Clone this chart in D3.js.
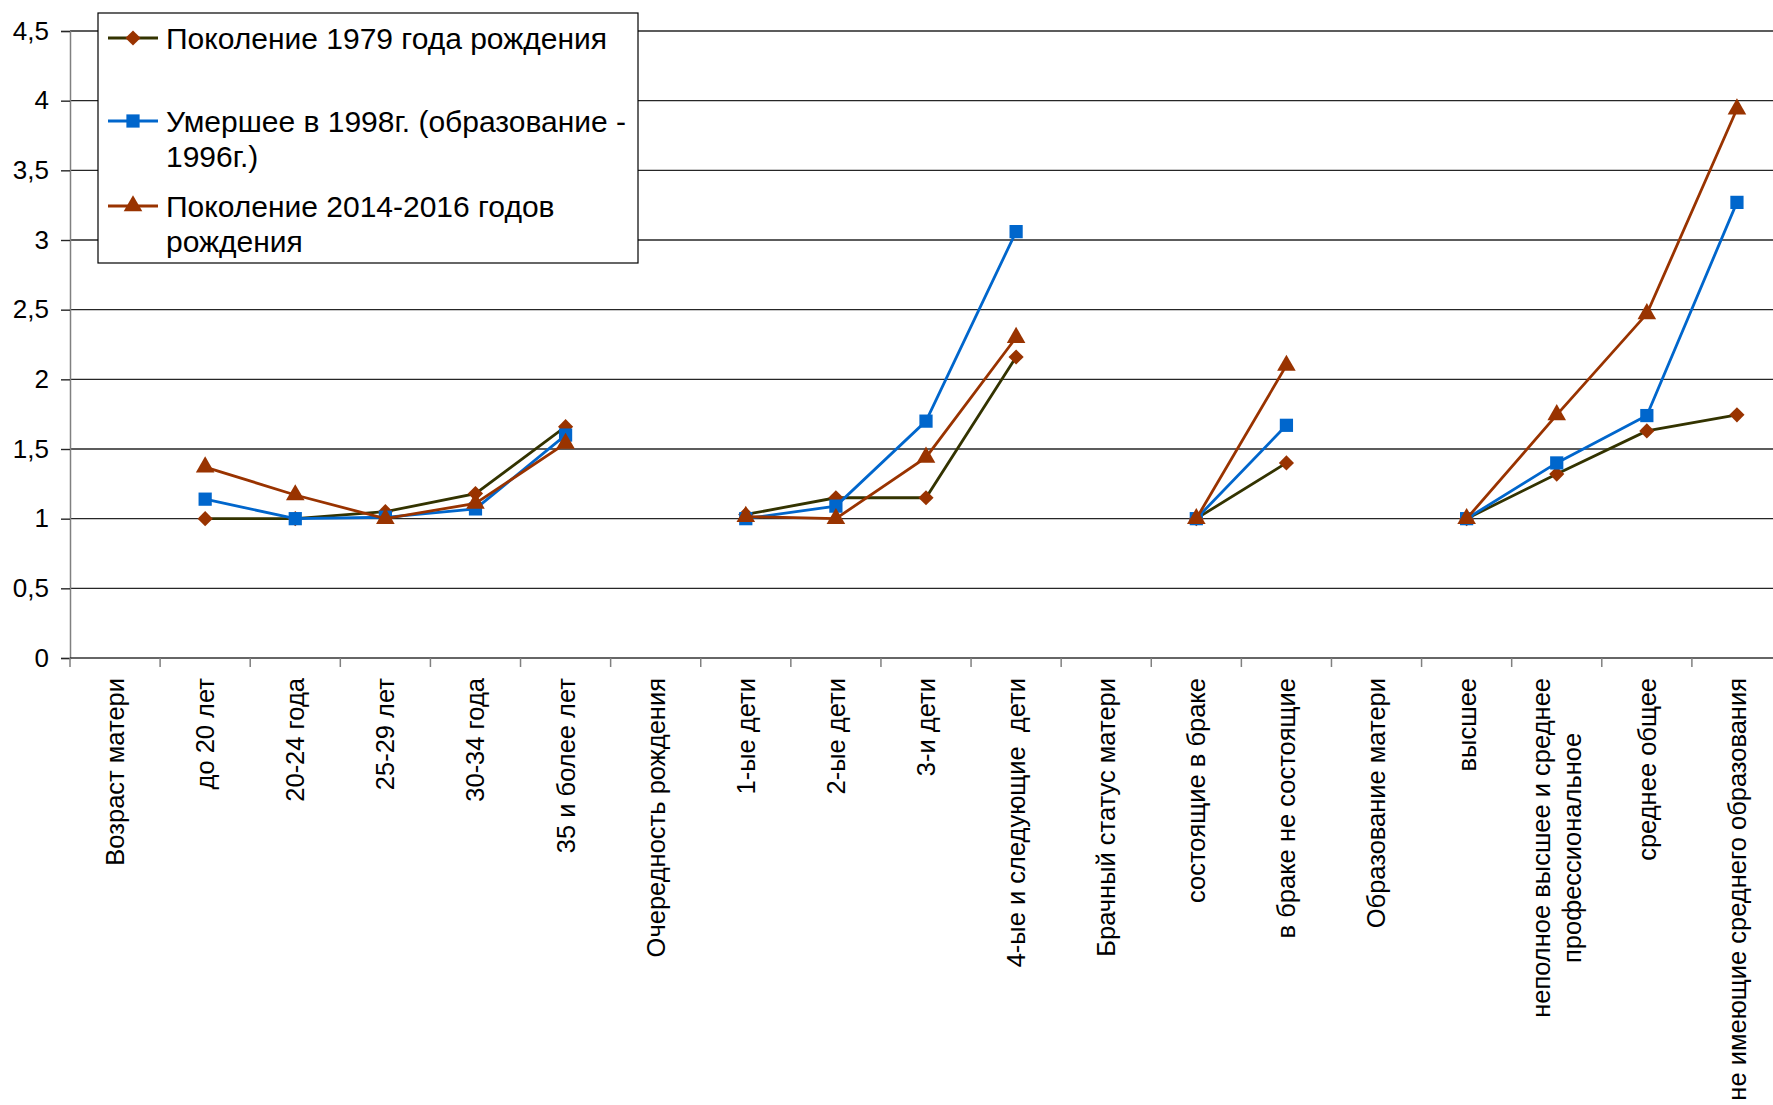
<!DOCTYPE html>
<html>
<head>
<meta charset="utf-8">
<script src="https://cdn.jsdelivr.net/npm/d3@7"></script>
<style>
  body { margin: 0; background: #fff; }
  text { font-family: "Liberation Sans", Arial, sans-serif; fill: #000; }
</style>
</head>
<body>
<div id="chart"></div>
<script>
// ------------------------- DATA -------------------------

// category labels (group headers have no values), "\n" splits a label into lines
let categories = [
    "Возраст матери", "до 20 лет", "20-24 года", "25-29 лет", "30-34 года", "35 и более лет",
    "Очередность рождения", "1-ые дети", "2-ые дети", "3-и дети", "4-ые и следующие  дети",
    "Брачный статус матери", "состоящие в браке", "в браке не состоящие",
    "Образование матери", "высшее", "неполное высшее и среднее\nпрофессиональное",
    "среднее общее", "не имеющие среднего образования"
];

let gen1979 = [null, 1.00, 1.00, 1.05, 1.18, 1.66,
               null, 1.03, 1.15, 1.15, 2.16,
               null, 1.00, 1.40,
               null, 1.00, 1.32, 1.63, 1.745];

let dead1998 = [null, 1.14, 1.00, 1.01, 1.07, 1.60,
                null, 1.00, 1.09, 1.70, 3.06,
                null, 1.00, 1.67,
                null, 1.00, 1.40, 1.74, 3.27];

let gen2014 = [null, 1.37, 1.17, 1.00, 1.11, 1.54,
               null, 1.015, 1.00, 1.44, 2.30,
               null, 1.00, 2.10,
               null, 1.00, 1.745, 2.47, 3.94];

let seriesNames = [
    ["Поколение 1979 года рождения"],
    ["Умершее в 1998г. (образование -", "1996г.)"],
    ["Поколение 2014-2016 годов", "рождения"]
];

let yTicks = [0, 0.5, 1, 1.5, 2, 2.5, 3, 3.5, 4, 4.5];

// --------------------- CHART SETUP ----------------------

let width = 1773, height = 1105;

let svg = d3.select("#chart")
            .append("svg")
            .attr("width", width)
            .attr("height", height)

let x = d3.scaleBand()
          .domain(categories)
          .range([70, 1782])

let y = d3.scaleLinear()
          .domain([0, 4.5])
          .range([658, 31])

let cx = c => x(c) + x.bandwidth() / 2

let series = [
    { values: gen1979, line: "#333300", marker: "#993300", kind: "diamond" },
    { values: dead1998, line: "#0066cc", marker: "#0066cc", kind: "square" },
    { values: gen2014, line: "#993300", marker: "#993300", kind: "triangle" }
];

// marker path for a series (diamond = square turned 45 degrees)
function marker(s) {
    if (s.kind === "square") return d3.symbol(d3.symbolSquare, 175)();
    if (s.kind === "triangle") return d3.symbol(d3.symbolTriangle, 150)();
    return d3.symbol(d3.symbolSquare, 115)();
}
function markerRotate(s) {
    return s.kind === "diamond" ? " rotate(45)" : "";
}

// ------------------------ GRID --------------------------

svg.append("g")
   .selectAll("line")
   .data(yTicks.filter(t => t > 0))
   .enter()
   .append("line")
   .attr("x1", 70)
   .attr("x2", width)
   .attr("y1", d => y(d))
   .attr("y2", d => y(d))
   .style("stroke", "#262626")
   .style("stroke-width", 1.4)

// ------------------------ AXES --------------------------

let yAxis = svg.append("g")
               .attr("transform", "translate(70,0)")
               .call(d3.axisLeft(y)
                       .tickValues(yTicks)
                       .tickSize(9)
                       .tickPadding(12)
                       .tickFormat(d => String(d).replace(".", ",")))

yAxis.select(".domain").style("stroke", "#808080").style("stroke-width", 1.5)
yAxis.selectAll(".tick line").style("stroke", "#262626").style("stroke-width", 1.4)
yAxis.selectAll(".tick text")
     .style("font-size", "26px")
     .style("font-family", "'Liberation Sans', Arial, sans-serif")
     .style("fill", "#000")

// x axis line
svg.append("line")
   .attr("x1", 70)
   .attr("x2", width)
   .attr("y1", y(0))
   .attr("y2", y(0))
   .style("stroke", "#333")
   .style("stroke-width", 1.5)

// tick marks between categories
svg.append("g")
   .selectAll("line")
   .data(categories.concat(["__end"]))
   .enter()
   .append("line")
   .attr("x1", (c, i) => i < categories.length ? x(c) : x.range()[1])
   .attr("x2", (c, i) => i < categories.length ? x(c) : x.range()[1])
   .attr("y1", y(0))
   .attr("y2", y(0) + 9)
   .style("stroke", "#808080")
   .style("stroke-width", 1.5)

// rotated category labels, top of text just under the axis
let labelTop = 678;
let labelGroups = svg.append("g")
                     .selectAll("g")
                     .data(categories)
                     .enter()
                     .append("g")
                     .attr("transform", c => "translate(" + cx(c) + "," + labelTop + ") rotate(-90)")

labelGroups.each(function (c) {
    let lines = c.split("\n");
    let g = d3.select(this);
    let texts = g.selectAll("text")
                 .data(lines)
                 .enter()
                 .append("text")
                 .attr("xml:space", "preserve")
                 .style("font-size", "25.5px")
                 .attr("y", (d, i) => (i - (lines.length - 1) / 2) * 31)
                 .attr("dy", "0.35em")
                 .text(d => d);
    // longest line ends at the top, the others are centred on it
    let lens = texts.nodes().map(n => n.getComputedTextLength());
    let maxLen = d3.max(lens);
    texts.attr("text-anchor", "middle")
         .attr("x", -maxLen / 2);
});

// ----------------------- SERIES -------------------------

let line = d3.line()
             .defined(d => d.v !== null)
             .x(d => cx(d.c))
             .y(d => y(d.v))

series.forEach(s => {
    let pts = categories.map((c, i) => ({ c: c, v: s.values[i] }));

    svg.append("path")
       .datum(pts)
       .attr("d", line)
       .style("fill", "none")
       .style("stroke", s.line)
       .style("stroke-width", 2.8)

    svg.append("g")
       .selectAll("path")
       .data(pts.filter(d => d.v !== null))
       .enter()
       .append("path")
       .attr("d", marker(s))
       .attr("transform", d => "translate(" + cx(d.c) + "," + y(d.v) + ")" + markerRotate(s))
       .style("fill", s.marker)
});

// ----------------------- LEGEND -------------------------

let legend = svg.append("g")

legend.append("rect")
      .attr("x", 98)
      .attr("y", 13)
      .attr("width", 540)
      .attr("height", 250)
      .style("fill", "#fff")
      .style("stroke", "#000")
      .style("stroke-width", 1.2)

let legendY = [38, 121, 206];

series.forEach((s, i) => {
    let ly = legendY[i];
    legend.append("line")
          .attr("x1", 108)
          .attr("x2", 158)
          .attr("y1", ly)
          .attr("y2", ly)
          .style("stroke", s.line)
          .style("stroke-width", 2.8)
    legend.append("path")
          .attr("d", marker(s))
          .attr("transform", "translate(133," + ly + ")" + markerRotate(s))
          .style("fill", s.marker)
    legend.selectAll(null)
          .data(seriesNames[i])
          .enter()
          .append("text")
          .attr("x", 166)
          .attr("y", (d, j) => ly + j * 35)
          .attr("dy", "0.35em")
          .style("font-size", "30px")
          .text(d => d)
});
</script>
</body>
</html>
